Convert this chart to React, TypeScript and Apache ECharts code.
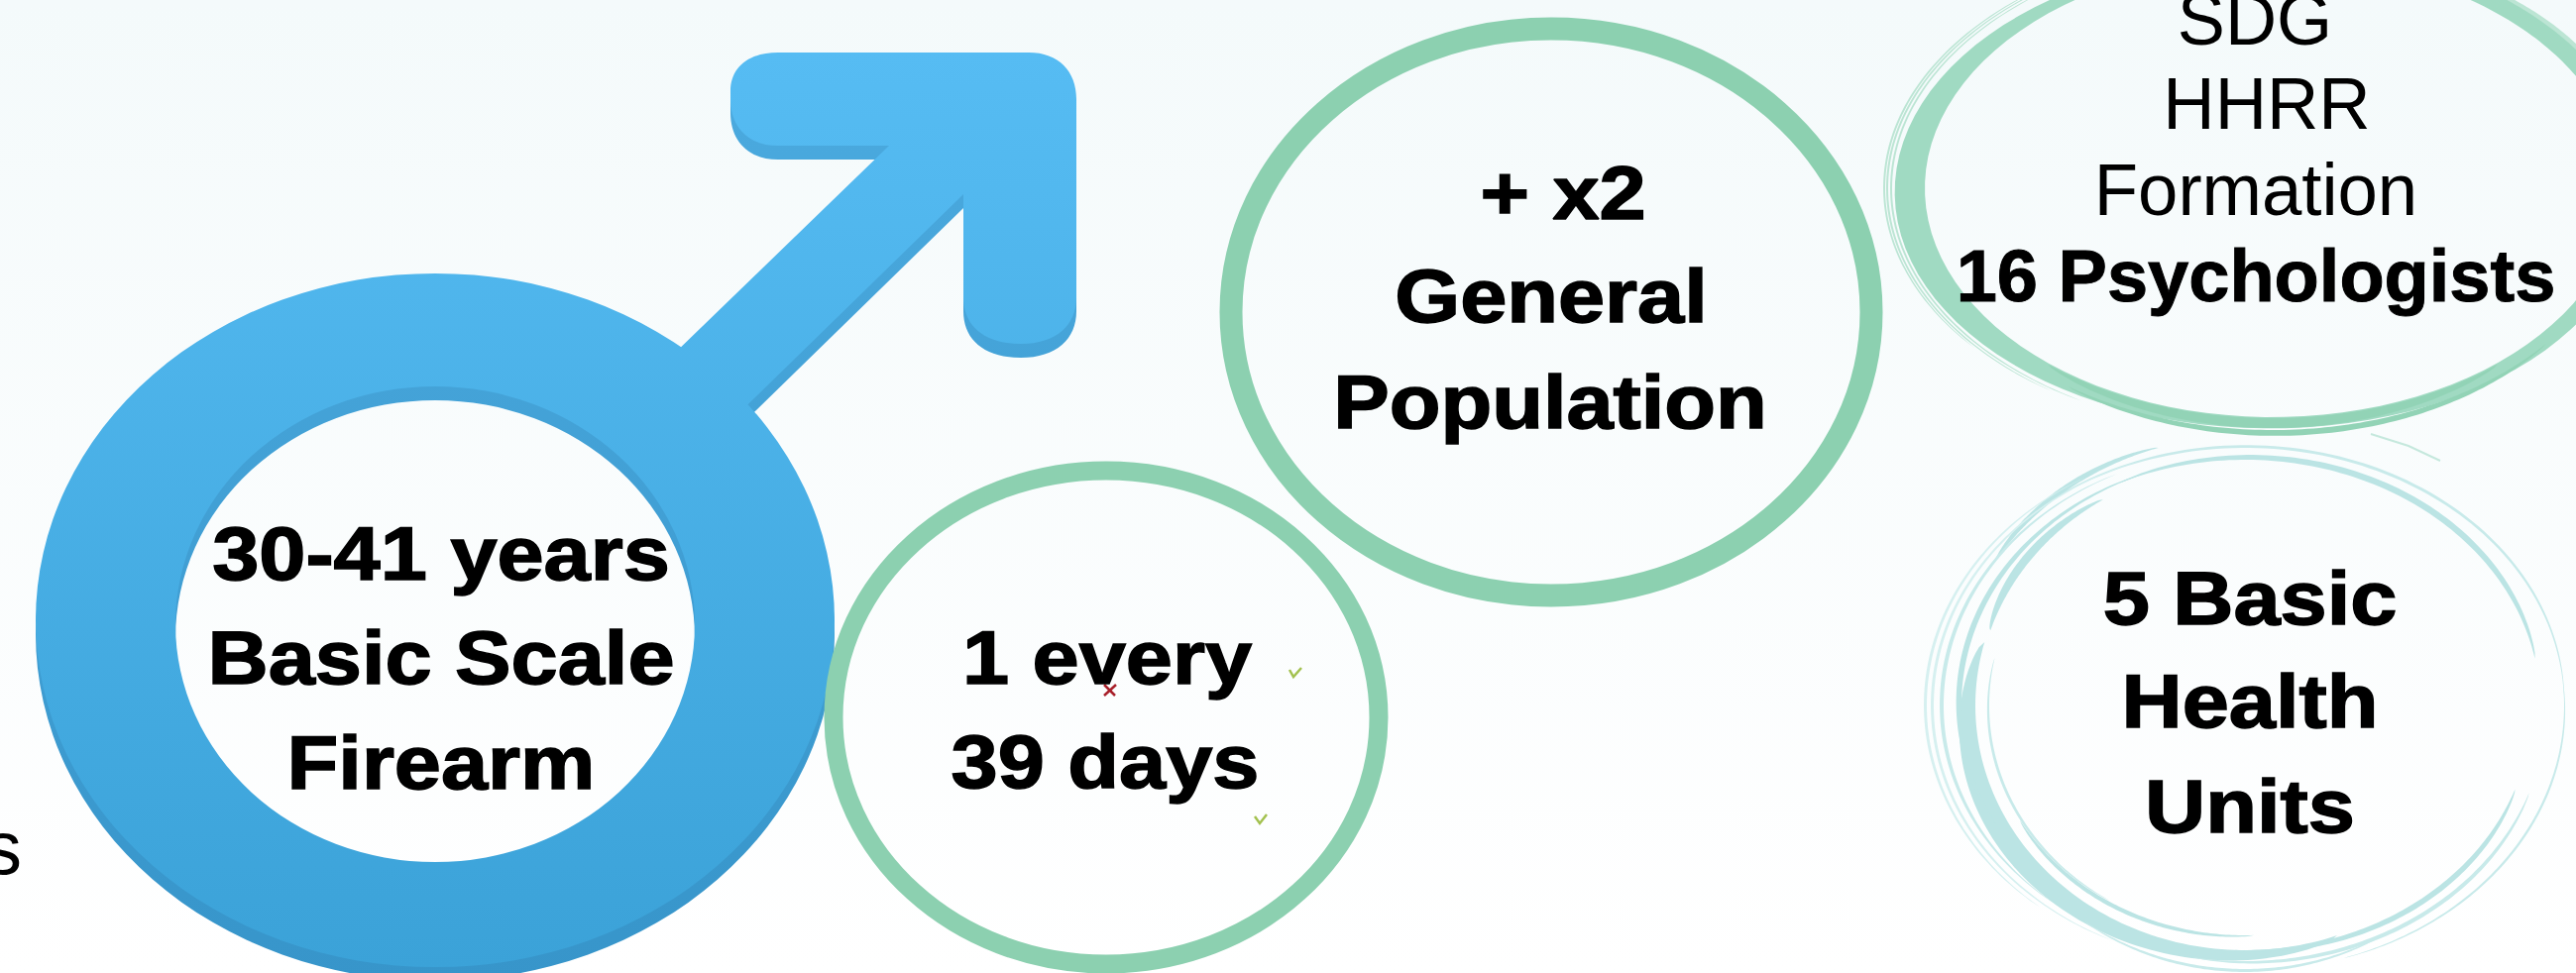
import React, { useEffect, useRef } from "react";
import * as echarts from "echarts";

const W = 2599;
const H = 982;

const maleLabels = ["30-41 years", "Basic Scale", "Firearm"];
const frequencyLabels = ["1 every", "39 days"];
const populationLabels = ["+ x2", "General", "Population"];
const formationLabels = ["SDG", "HHRR", "Formation"];
const psychologistsLabel = "16 Psychologists";
const unitsLabels = ["5 Basic", "Health", "Units"];
const clippedLabel = "s";

const FONT = '"Liberation Sans", Arial, sans-serif';
const BASELINE_SHIFT = 12;

function label(text: string, x: number, y: number, bold: boolean, scaleX: number, heavy = 0, size = 74) {
  return {
    type: "text",
    x,
    y: y + BASELINE_SHIFT + (size - 74) * 0.2,
    scaleX,
    silent: true,
    style: {
      text,
      x: 0,
      y: 0,
      fill: "#000000",
      stroke: heavy ? "#000000" : "none",
      lineWidth: heavy,
      font: `${bold ? "bold " : ""}${size}px ${FONT}`,
      textAlign: "center",
      textVerticalAlign: "bottom",
    },
  };
}

// A tapered brush stroke following an ellipse; it grows outward from the ellipse.
function brush(c: number[], rx: number, ry: number, a0: number, a1: number, wx: number, wy: number, fill: string) {
  const n = 90;
  const outer: number[][] = [];
  const inner: number[][] = [];
  for (let i = 0; i <= n; i++) {
    const t = i / n;
    const a = ((a0 + (a1 - a0) * t) * Math.PI) / 180;
    const p = Math.pow(Math.sin(Math.PI * t), 0.55);
    inner.push([c[0] + rx * Math.cos(a), c[1] + ry * Math.sin(a)]);
    outer.push([c[0] + (rx + wx * p) * Math.cos(a), c[1] + (ry + wy * p) * Math.sin(a)]);
  }
  return { type: "polygon", silent: true, shape: { points: inner.concat(outer.reverse()) }, style: { fill } };
}

function ellipseRing(cx: number, cy: number, rx: number, ry: number, lineWidth: number, stroke: string) {
  return {
    type: "ellipse",
    silent: true,
    shape: { cx, cy, rx, ry },
    style: { fill: "none", stroke, lineWidth },
  };
}

function tick(points: number[][], stroke: string, lineWidth: number) {
  return { type: "polyline", silent: true, shape: { points }, style: { stroke, lineWidth, fill: "none" } };
}

// Male symbol: ring with opposite-wound hole plus arrow.
const MALE_D =
  "M36 626 A403 350 0 1 1 842 626 A403 350 0 1 1 36 626 Z " +
  "M177 630 A262 240 0 1 0 701 630 A262 240 0 1 0 177 630 Z " +
  "M646 390 L897 147 L785 147 C755 147 737 128 737 100 L737 92 C737 68 755 53 785 53 " +
  "L1038 53 C1068 53 1086 72 1086 100 L1086 300 C1086 328 1066 347 1030 347 C992 347 972 328 972 300 " +
  "L972 196 L719 443 Z";

echarts.graphic.registerShape("maleSymbol", echarts.graphic.extendPath(MALE_D, {}));

export default function App() {
  const ref = useRef<HTMLDivElement>(null);
  useEffect(() => {
    document.body.style.margin = "0";
    const chart = echarts.init(ref.current!, null, { renderer: "svg", width: W, height: H });

    const g = [2293, 190];
    const t = [2265, 712];
    const G1 = "#A0DAC2";
    const G2 = "#92D3B6";
    const G3 = "#BCE5D4";
    const T1 = "#BBE4E4";
    const T2 = "#C8EAEA";
    const T3 = "#D6F0F0";

    const bold = 76;
    const wide = 1.115;
    const heavy = 1.5;

    const graphic: any[] = [
      // male symbol
      {
        type: "maleSymbol",
        x: 0,
        y: 14,
        silent: true,
        style: {
          fill: new echarts.graphic.LinearGradient(0, 0, 0, 1, [
            { offset: 0, color: "#4BAADF" },
            { offset: 1, color: "#3795CA" },
          ]),
        },
      },
      {
        type: "maleSymbol",
        x: 0,
        y: 0,
        silent: true,
        style: {
          fill: new echarts.graphic.LinearGradient(0, 0, 0, 1, [
            { offset: 0, color: "#56BCF3" },
            { offset: 1, color: "#3BA2D8" },
          ]),
        },
      },
      // clean rings
      ellipseRing(1116, 724, 275, 249, 19, "#8CD0B0"),
      ellipseRing(1565, 315, 323, 286, 23, "#8CD0B0"),
      // rough green ring
      brush(g, 351, 231, -15, 275, 33, 12, G1),
      brush(g, 351, 231, 280, 375, 24, 18, G1),
      brush(g, 353, 232, 50, 130, 8, 10, G2),
      brush(g, 360, 244, 40, 125, 5, 6, G2),
      brush(g, 384, 248, 120, 235, 2, 2, G3),
      brush(g, 388, 250, 125, 240, 2, 2, G3),
      brush(g, 391, 252, 140, 235, 2, 2, G3),
      brush(g, 372, 246, 295, 345, 5, 4, G3),
      tick([[2392, 438], [2430, 450], [2462, 465]], "#C5E8DD", 2),
      // rough teal ring
      brush(t, 272, 247, 70, 195, 26, 15, T1),
      brush(t, 262, 232, 88, 150, 5, 4, T1),
      brush(t, 258, 232, 122, 192, 3, 2, T2),
      brush(t, 270, 245, 198, 238, 10, 6, T1),
      brush(t, 286, 250, 150, 250, 6, 3, T1),
      brush(t, 298, 248, 245, 349, 8, 6, T1),
      brush(t, 322, 260, 225, 358, 3, 3, T2),
      brush(t, 298, 272, 212, 253, 7, 5, T1),
      brush(t, 304, 258, 130, 245, 4, 2, T2),
      brush(t, 314, 262, 115, 250, 3, 2, T3),
      brush(t, 321, 266, 130, 240, 3, 2, T3),
      brush(t, 290, 247, 20, 92, 7, 5, T1),
      brush(t, 305, 258, 20, 100, 5, 4, T2),
      brush(t, 322, 268, -5, 72, 2.5, 2, T2),
      brush(t, 282, 266, 60, 125, 3, 3, T2),
      // small marks
      tick([[1301, 676], [1305, 683], [1313, 674]], "#A3C14F", 2.5),
      tick([[1266, 824], [1271, 831], [1278, 822]], "#A3C14F", 2.5),
      tick([[1114, 691], [1125, 702]], "#A8202A", 2.5),
      tick([[1126, 691], [1114, 702]], "#A8202A", 2.5),
      // labels
      label(maleLabels[0], 445, 584, true, wide, heavy, bold),
      label(maleLabels[1], 445, 689, true, wide, heavy, bold),
      label(maleLabels[2], 445, 795, true, wide, heavy, bold),
      label(frequencyLabels[0], 1117, 689, true, wide, heavy, bold),
      label(frequencyLabels[1], 1115, 794, true, wide, heavy, bold),
      label(populationLabels[0], 1577, 220, true, wide, heavy, bold),
      label(populationLabels[1], 1565, 324, true, wide, heavy, bold),
      label(populationLabels[2], 1564, 431, true, wide, heavy, bold),
      label(formationLabels[0], 2275, 44, false, 0.975),
      label(formationLabels[1], 2287, 130, false, 0.98),
      label(formationLabels[2], 2276, 217, false, 0.98),
      label(psychologistsLabel, 2276, 303, true, 1.0, 1),
      label(unitsLabels[0], 2270, 629, true, wide, heavy, bold),
      label(unitsLabels[1], 2270, 733, true, wide, heavy, bold),
      label(unitsLabels[2], 2270, 839, true, wide, heavy, bold),
      label(clippedLabel, 3, 881, false, 1.0, 0, 76),
    ];

    chart.setOption({
      animation: false,
      backgroundColor: new echarts.graphic.LinearGradient(0, 0, 0, 1, [
        { offset: 0, color: "#F4FAFB" },
        { offset: 1, color: "#FFFFFF" },
      ]),
      graphic,
    });
    return () => chart.dispose();
  }, []);
  return <div ref={ref} style={{ position: "fixed", left: 0, top: 0, width: W, height: H }} />;
}
